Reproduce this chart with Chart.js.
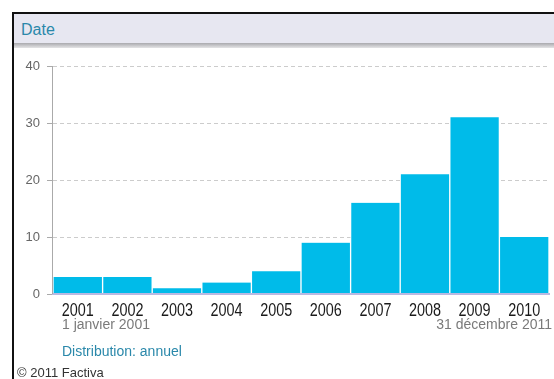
<!DOCTYPE html>
<html>
<head>
<meta charset="utf-8">
<script src="https://cdn.jsdelivr.net/npm/chart.js@4/dist/chart.umd.min.js"></script>
<style>
  html, body { margin: 0; padding: 0; background: #fff; }
  body { width: 554px; height: 379px; overflow: hidden; position: relative; font-family: "Liberation Sans", Arial, sans-serif; }
  #frameTop { position: absolute; left: 12px; top: 12px; width: 542px; height: 2px; background: #111; }
  #frameLeft { position: absolute; left: 12px; top: 12px; width: 2px; height: 367px; background: #111; }
  #header { position: absolute; left: 14px; top: 14px; width: 540px; height: 29px; background: #e7e7f1; }
  #shadow { position: absolute; left: 14px; top: 43px; width: 540px; height: 5px; background: linear-gradient(#a9a9ad, #e4e4e6); }
  #title { position: absolute; left: 21px; top: 21px; font-size: 16px; color: #2a88aa; }
  #wrap { position: absolute; left: 0; top: 0; width: 554px; height: 379px; }
  .lbl { position: absolute; white-space: nowrap; }
  #startD { left: 62px; top: 316px; font-size: 14px; color: #7a7a7a; }
  #endD { right: 2px; top: 316px; font-size: 14px; color: #7a7a7a; }
  #dist { left: 62px; top: 343px; font-size: 14px; color: #2a88aa; }
  #copy { left: 17px; top: 365px; font-size: 13px; color: #333; }
</style>
</head>
<body>
<div id="wrap"><canvas id="c" width="554" height="379"></canvas></div>
<div id="header"></div>
<div id="shadow"></div>
<div id="frameTop"></div>
<div id="frameLeft"></div>
<div id="title">Date</div>
<div class="lbl" id="startD">1 janvier 2001</div>
<div class="lbl" id="endD">31 décembre 2011</div>
<div class="lbl" id="dist">Distribution: annuel</div>
<div class="lbl" id="copy">© 2011 Factiva</div>
<script>
const years = ["2001","2002","2003","2004","2005","2006","2007","2008","2009","2010"];
const counts = [3, 3, 1, 2, 4, 9, 16, 21, 31, 10];
const yTicks = [0, 10, 20, 30, 40];

// Draws the category labels in a horizontally condensed face (like the reference)
const narrowLabels = {
  id: 'narrowLabels',
  afterDraw(chart) {
    const xs = chart.scales.x;
    const c = chart.ctx;
    c.save();
    c.fillStyle = '#1a1a1a';
    c.font = "18px 'Liberation Sans', Arial, sans-serif";
    c.textAlign = 'center';
    c.textBaseline = 'alphabetic';
    xs.ticks.forEach((t, i) => {
      const px = xs.getPixelForTick(i);
      c.save();
      c.translate(px, xs.top + 22);
      c.scale(0.8, 1);
      c.fillText(xs.getLabelForValue(t.value), 0, 0);
      c.restore();
    });
    c.restore();
  }
};

// Solid y axis line (grid lines are dashed)
const solidYAxis = {
  id: 'solidYAxis',
  afterDraw(chart) {
    const ys = chart.scales.y;
    const c = chart.ctx;
    c.save();
    c.strokeStyle = '#aaaaaa';
    c.lineWidth = 1;
    c.setLineDash([]);
    c.beginPath();
    c.moveTo(ys.right - 0.5, ys.top);
    c.lineTo(ys.right - 0.5, ys.bottom);
    c.stroke();
    c.restore();
  }
};

const ctx = document.getElementById('c');
new Chart(ctx, {
  type: 'bar',
  data: {
    labels: years,
    datasets: [{
      data: counts,
      backgroundColor: '#00bbe9',
      borderColor: '#ffffff',
      borderWidth: { left: 1, right: 1, top: 0, bottom: 0 },
      borderSkipped: false,
      barPercentage: 1,
      categoryPercentage: 1
    }]
  },
  options: {
    responsive: false,
    animation: false,
    devicePixelRatio: 1,
    layout: { autoPadding: false, padding: { left: 0, right: 5, top: 66, bottom: 59 } },
    plugins: { legend: { display: false }, tooltip: { enabled: false } },
    scales: {
      x: {
        afterFit: s => { s.height = 26; },
        grid: { display: false, drawTicks: false },
        border: { display: true, color: '#b9b9e2', width: 2, z: 1 },
        ticks: { color: 'rgba(0,0,0,0)', padding: 5, maxRotation: 0, autoSkip: false,
                 font: { family: "'Liberation Sans', Arial, sans-serif", size: 17 } }
      },
      y: {
        min: 0, max: 40,
        afterFit: s => { s.width = 53; },
        afterBuildTicks: s => { s.ticks = yTicks.map(v => ({ value: v })); },
        border: { display: false, dash: [4, 3] },
        grid: {
          color: ctx => ctx.tick && ctx.tick.value === 0 ? 'rgba(0,0,0,0)' : '#cccccc',
          tickColor: '#aaaaaa',
          tickBorderDash: [],
          tickLength: 6,
          drawOnChartArea: true
        },
        ticks: { color: '#666', padding: 7, font: { family: "'Liberation Sans', Arial, sans-serif", size: 13 } }
      }
    }
  },
  plugins: [narrowLabels, solidYAxis]
});
</script>
</body>
</html>
